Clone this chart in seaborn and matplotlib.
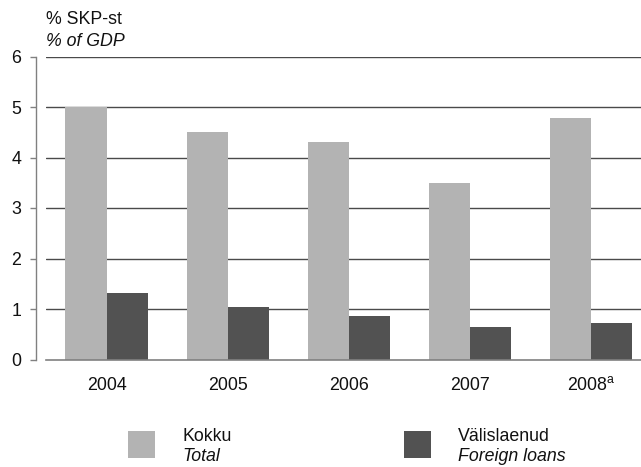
import matplotlib
matplotlib.use("Agg")
import matplotlib.pyplot as plt
from matplotlib.patches import Rectangle
import seaborn as sns
import pandas as pd

# Data: deficit financing, % of GDP
years = ["2004", "2005", "2006", "2007", "2008"]
year_labels = ["2004", "2005", "2006", "2007", "2008$^{\\mathrm{a}}$"]
total = [5.0, 4.51, 4.31, 3.5, 4.78]
foreign_loans = [1.32, 1.04, 0.86, 0.645, 0.72]
series_names = ["Kokku", "Välislaenud"]
series_names_en = ["Total", "Foreign loans"]
colors = ["#b3b3b3", "#525252"]

df = pd.DataFrame({
    "year": years * 2,
    "value": total + foreign_loans,
    "series": [series_names[0]] * len(years) + [series_names[1]] * len(years),
})

sns.set_theme(style="white")
plt.rcParams["font.family"] = ["Liberation Sans", "DejaVu Sans"]
plt.rcParams["mathtext.fontset"] = "custom"
plt.rcParams["mathtext.rm"] = "Liberation Sans"
plt.rcParams["mathtext.it"] = "Liberation Sans:italic"
FS = 12.8

W, H = 641, 467
fig = plt.figure(figsize=(W / 100, H / 100), dpi=100)
ax = fig.add_axes([46 / W, (H - 359.5) / H, (W - 46) / W, (359.5 - 56.5) / H])

sns.barplot(data=df, x="year", y="value", hue="series", palette=colors,
            width=0.678, saturation=1, linewidth=0, legend=False, ax=ax)

ax.set_ylim(0, 6)
ax.set_xlim(-0.5, 4.5 - 10.5 / 121)
ax.set_yticks(range(0, 7))
ax.set_xticks(range(len(years)))
ax.set_xticklabels(year_labels)
ax.set_xlabel("")
ax.set_ylabel("")

# horizontal grid lines
for v in range(1, 7):
    ax.axhline(v, color="#4a4a4a", linewidth=1.0, zorder=0.5)

for s in ["top", "right"]:
    ax.spines[s].set_visible(False)
ax.spines["bottom"].set_color("#808080")
ax.spines["bottom"].set_linewidth(1.2)
ax.spines["left"].set_color("#808080")
ax.spines["left"].set_linewidth(1.0)
ax.spines["left"].set_position(("outward", 7))
ax.spines["left"].set_bounds(0, 6)

ax.tick_params(axis="y", length=4.3, width=1.0, color="#808080", pad=6.5,
               labelsize=FS, labelcolor="#111111", left=True)
# year labels sit on a common baseline so the footnote mark does not shift them
ax.tick_params(axis="x", length=0, pad=21.6, labelsize=FS, labelcolor="#111111")
for lbl in ax.get_xticklabels():
    lbl.set_verticalalignment("baseline")

# unit labels
fig.text(46 / W, 1 - 19.5 / H, "% SKP-st", fontsize=FS, color="#111111", va="center", ha="left")
fig.text(46 / W, 1 - 41 / H, "% of GDP", fontsize=FS, color="#111111", va="center", ha="left",
         style="italic")

# legend
legend_x = [128, 404]
text_x = [182, 458]
for i in range(2):
    fig.patches.append(Rectangle((legend_x[i] / W, 1 - 458 / H), 27 / W, 27 / H,
                                 transform=fig.transFigure, facecolor=colors[i],
                                 edgecolor="none"))
    fig.text(text_x[i] / W, 1 - 441 / H, series_names[i], fontsize=FS,
             color="#111111", va="baseline", ha="left")
    fig.text(text_x[i] / W, 1 - 461 / H, series_names_en[i], fontsize=FS,
             color="#111111", va="baseline", ha="left", style="italic")

fig.savefig("out.png", dpi=100, facecolor="white")
